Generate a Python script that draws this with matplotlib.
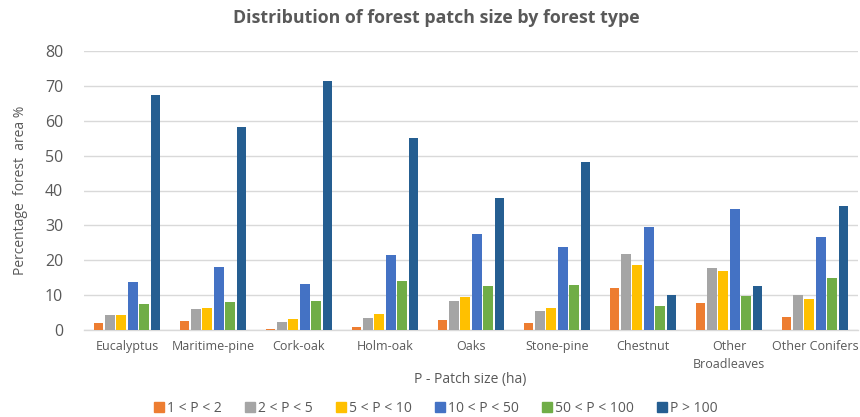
import numpy as np
import matplotlib
matplotlib.use("Agg")
import matplotlib.pyplot as plt
from matplotlib.lines import Line2D

plt.rcParams['font.family'] = ['Open Sans', 'DejaVu Sans']

categories = ["Eucalyptus", "Maritime-pine", "Cork-oak", "Holm-oak", "Oaks",
              "Stone-pine", "Chestnut", "Other\nBroadleaves", "Other Conifers"]

series_labels = ["1 < P < 2", "2 < P < 5", "5 < P < 10",
                 "10 < P < 50", "50 < P < 100", "P > 100"]

p_1_2 = [1.9, 2.6, 0.4, 0.8, 2.8, 2.1, 11.9, 7.7, 3.6]
p_2_5 = [4.3, 5.9, 2.3, 3.3, 8.4, 5.5, 21.8, 17.9, 9.9]
p_5_10 = [4.3, 6.2, 3.1, 4.5, 9.4, 6.2, 18.7, 16.8, 9.0]
p_10_50 = [13.8, 18.1, 13.2, 21.6, 27.6, 23.7, 29.5, 34.7, 26.6]
p_50_100 = [7.5, 8.0, 8.4, 14.0, 12.5, 13.0, 7.0, 9.7, 14.8]
p_over_100 = [67.3, 58.3, 71.5, 55.0, 37.9, 48.1, 9.9, 12.5, 35.5]

series = [p_1_2, p_2_5, p_5_10, p_10_50, p_50_100, p_over_100]
colors = ["#ED7D31", "#A5A5A5", "#FFC000", "#4472C4", "#70AD47", "#255E91"]

text_color = "#595959"
grid_color = "#D9D9D9"

fig = plt.figure(figsize=(8.6, 4.17), dpi=100)
ax = fig.add_axes([84 / 860, 1 - 330 / 417, (858 - 84) / 860, (330 - 51) / 417])

x = np.arange(len(categories))
stride = 0.133
width = 0.113
for i, (vals, col, lab) in enumerate(zip(series, colors, series_labels)):
    offs = (i - 2.5) * stride
    ax.bar(x + offs, vals, width=width, color=col, label=lab, zorder=3)

ax.set_xlim(-0.5, len(categories) - 0.5)
ax.set_ylim(0, 80)
ax.set_yticks(np.arange(0, 81, 10))
ax.yaxis.grid(True, color=grid_color, linewidth=1.0, zorder=0)
ax.set_axisbelow(True)
for s in ["top", "right", "left"]:
    ax.spines[s].set_visible(False)
ax.spines["bottom"].set_color(grid_color)
ax.spines["bottom"].set_linewidth(1.0)
ax.tick_params(axis="both", length=0, colors=text_color)
ax.tick_params(axis="y", pad=15, labelsize=11.5)
ax.tick_params(axis="x", pad=7)
ax.set_xticks(x)
ax.set_xticklabels(categories, fontsize=9, color=text_color, linespacing=1.5)

ax.set_ylabel("Percentage  forest  area %", fontsize=10, color=text_color, labelpad=12)
fig.text(0.5 + 40 / 860, 1 - 380 / 417, "P - Patch size (ha)", ha="center", va="center",
         fontsize=10, color=text_color)

fig.text(436 / 860, 1 - 18 / 417, "Distribution of forest patch size by forest type",
         ha="center", va="center", fontsize=12.8, fontweight="bold", color=text_color)

handles = [Line2D([0], [0], marker="s", linestyle="none", markersize=7,
                  markerfacecolor=c, markeredgecolor=c) for c in colors]
fig.legend(handles, series_labels, loc="center", bbox_to_anchor=(435 / 860, 1 - 408 / 417),
           ncol=6, frameon=False, fontsize=10, labelcolor=text_color,
           handletextpad=0.1, columnspacing=1.5, handlelength=1.0)

fig.savefig("out.png", dpi=100)
